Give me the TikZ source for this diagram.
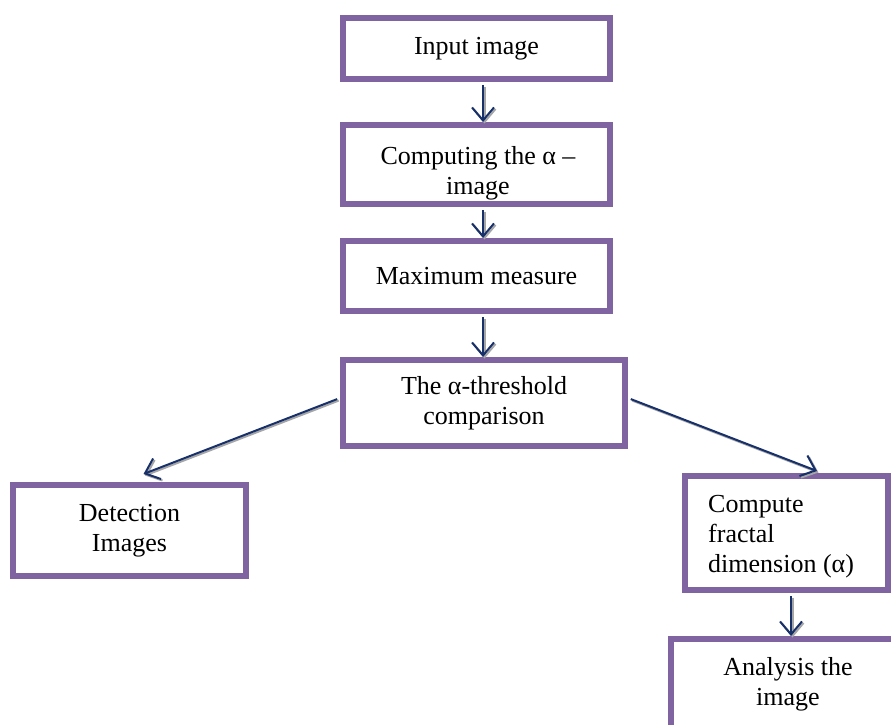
\documentclass[tikz,border=0pt]{standalone}
\usepackage{fontspec}
\setmainfont{Liberation Serif}
\usetikzlibrary{arrows.meta}
\definecolor{boxpurple}{HTML}{8064A2}
\definecolor{arrownavy}{HTML}{17306A}
\definecolor{shadowgray}{HTML}{A6A6A6}
\begin{document}
\begin{tikzpicture}[x=1pt,y=-1pt,
  stepbox/.style={draw=boxpurple, line width=6pt, fill=none, inner sep=0pt,
    align=center, font=\fontsize{26}{30}\selectfont},
  steptext/.style={inner sep=0pt, align=center, font=\fontsize{26}{30}\selectfont},
  flow/.style={draw=arrownavy, line width=2pt,
    -{Straight Barb[length=13pt,width=22pt,line width=2pt]},
    preaction={draw=shadowgray, line width=2pt,
      -{Straight Barb[length=13pt,width=22pt,line width=2pt]},
      transform canvas={shift={(1.5pt,-1.5pt)}}}}
]
\useasboundingbox (0,0) rectangle (891,724);
\clip (0,0) rectangle (891,724);
\fill[white] (0,0) rectangle (891,724);

% main column
\node[stepbox, minimum width=267pt, minimum height=61pt] (b1) at (476.5,48.5) {Input image};
\node[steptext] (t2) at (478,173) {Computing the α –\\image};
\node[stepbox, minimum width=267pt, minimum height=79pt] (b2) at (476.5,164.5) {};
\node[stepbox, minimum width=267pt, minimum height=70pt] (b3) at (476.5,276) {Maximum measure};
\node[stepbox, minimum width=282pt, minimum height=86pt] (b4) at (484,403) {The α-threshold\\comparison};

% branches
\node[stepbox, minimum width=233pt, minimum height=91pt] (b5) at (129.5,530.5) {Detection\\Images};
\node[stepbox, minimum width=203pt, minimum height=114pt] (b6) at (786.5,533) {};
\node[steptext, align=left, anchor=west] (t6) at (708,537) {Compute\\fractal\\dimension (α)};
\node[stepbox, minimum width=234pt, minimum height=91pt] (b7) at (788,684.5) {Analysis the\\image};

% connectors
\draw[flow, shorten <=3pt] ([xshift=6.5pt]b1.south) -- ([xshift=6.5pt]b2.north);
\draw[flow, shorten <=3pt] ([xshift=6.5pt]b2.south) -- ([xshift=6.5pt]b3.north);
\draw[flow, shorten <=3pt] ([xshift=6.5pt]b3.south) -- ([xshift=-1pt]b4.north);
\draw[flow, shorten <=3pt] ([yshift=5pt]b4.west) -- ([xshift=14pt,yshift=8pt]b5.north);
\draw[flow, shorten <=3pt] ([yshift=5pt]b4.east) -- ([xshift=30.5pt,yshift=2pt]b6.north);
\draw[flow, shorten <=3pt] ([xshift=4.5pt]b6.south) -- ([xshift=3pt]b7.north);
\end{tikzpicture}
\end{document}
